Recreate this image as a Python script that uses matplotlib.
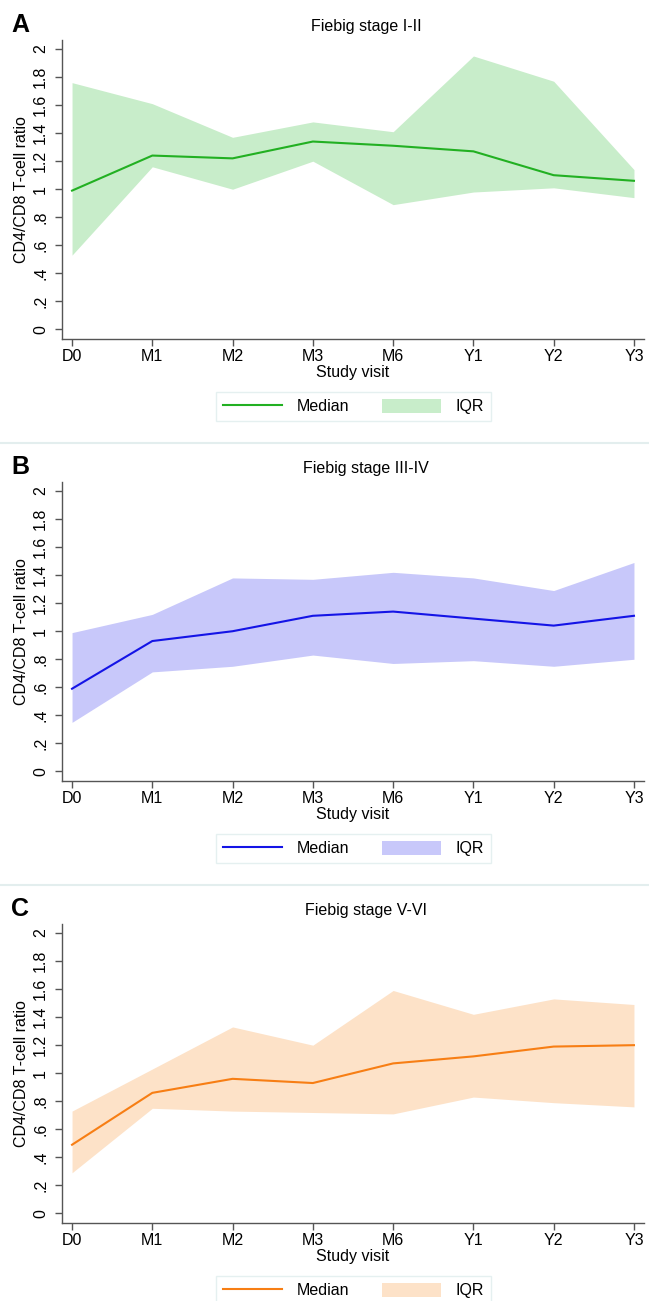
import matplotlib
matplotlib.use("Agg")
import matplotlib.pyplot as plt
from matplotlib.patches import Patch
from matplotlib.lines import Line2D

plt.rcParams['font.family'] = ['Liberation Sans', 'DejaVu Sans']

# Data
visits = ["D0", "M1", "M2", "M3", "M6", "Y1", "Y2", "Y3"]
yticks = [0, 0.2, 0.4, 0.6, 0.8, 1.0, 1.2, 1.4, 1.6, 1.8, 2.0]
ytick_labels = ["0", ".2", ".4", ".6", ".8", "1", "1.2", "1.4", "1.6", "1.8", "2"]

titles = ["Fiebig stage I-II", "Fiebig stage III-IV", "Fiebig stage V-VI"]
letters = ["A", "B", "C"]

median_a = [0.99, 1.24, 1.22, 1.34, 1.31, 1.27, 1.10, 1.06]
upper_a = [1.76, 1.61, 1.37, 1.48, 1.41, 1.95, 1.77, 1.14]
lower_a = [0.53, 1.16, 1.00, 1.20, 0.89, 0.98, 1.01, 0.94]

median_b = [0.59, 0.93, 1.00, 1.11, 1.14, 1.09, 1.04, 1.11]
upper_b = [0.99, 1.12, 1.38, 1.37, 1.42, 1.38, 1.29, 1.49]
lower_b = [0.35, 0.71, 0.75, 0.83, 0.77, 0.79, 0.75, 0.80]

median_c = [0.49, 0.86, 0.96, 0.93, 1.07, 1.12, 1.19, 1.20]
upper_c = [0.73, 1.03, 1.33, 1.20, 1.59, 1.42, 1.53, 1.49]
lower_c = [0.29, 0.75, 0.73, 0.72, 0.71, 0.83, 0.79, 0.76]

line_colors = ["#22b022", "#1414e6", "#f77e14"]
fill_colors = ["#c8edca", "#c8c8fa", "#fde2c8"]

panels = [(median_a, upper_a, lower_a),
          (median_b, upper_b, lower_b),
          (median_c, upper_c, lower_c)]

W, H = 649, 1301
fig = plt.figure(figsize=(W / 100, H / 100), dpi=100)

def fx(px):
    return px / W

def fy(py):
    return 1 - py / H

offsets = [0, 442, 884]
x = list(range(len(visits)))
fs = 11.5

for i, (med, up, lo) in enumerate(panels):
    off = offsets[i]
    # axes box: left 62, right 644, top off+40, bottom off+339
    ax = fig.add_axes([fx(62), fy(off + 339), fx(644 - 62), 299 / H])
    ax.fill_between(x, lo, up, color=fill_colors[i], linewidth=0)
    ax.plot(x, med, color=line_colors[i], linewidth=1.5)

    ax.set_xlim(-0.125, 7.125)
    ax.set_ylim(-0.068, 2.064)
    ax.set_xticks(x)
    ax.set_xticklabels(visits)
    ax.set_yticks(yticks)
    ax.set_yticklabels(ytick_labels, rotation=90, va='center')

    for s in ['top', 'right']:
        ax.spines[s].set_visible(False)
    for s in ['left', 'bottom']:
        ax.spines[s].set_color('#555555')
        ax.spines[s].set_linewidth(1.0)
    ax.tick_params(axis='both', colors='#555555', labelcolor='black',
                   labelsize=fs, length=5, width=1.0)
    ax.tick_params(axis='y', pad=5)
    ax.tick_params(axis='x', pad=2.5)

    fig.text(fx(366), fy(off + 26.5), titles[i], ha='center', va='center',
             fontsize=11.5)
    fig.text(fx(11), fy(off + 25), letters[i], ha='left', va='center',
             fontsize=18, fontweight='bold')
    fig.text(fx(22), fy(off + 189.5), "CD4/CD8 T-cell ratio", rotation=90,
             ha='center', va='center', fontsize=fs)
    fig.text(fx(353), fy(off + 373), "Study visit", ha='center', va='center',
             fontsize=fs)

    handles = [Line2D([0], [0], color=line_colors[i], linewidth=1.5),
               Patch(facecolor=fill_colors[i], edgecolor='none')]
    leg = fig.legend(handles, ["Median", "IQR"], ncol=2, loc='center',
                     bbox_to_anchor=(fx(353.5), fy(off + 406.5)),
                     fontsize=fs, frameon=True, fancybox=False,
                     handlelength=3.7, handleheight=1.0, handletextpad=0.95,
                     columnspacing=2.0, borderpad=0.4)
    leg.get_frame().set_edgecolor('#dfeded')
    leg.get_frame().set_linewidth(1.0)

# faint panel separators
for yy in [443, 885]:
    fig.add_artist(Line2D([0, 1], [fy(yy), fy(yy)], color='#e3eeee',
                          linewidth=1.5, transform=fig.transFigure))

fig.savefig("out.png", dpi=100)
